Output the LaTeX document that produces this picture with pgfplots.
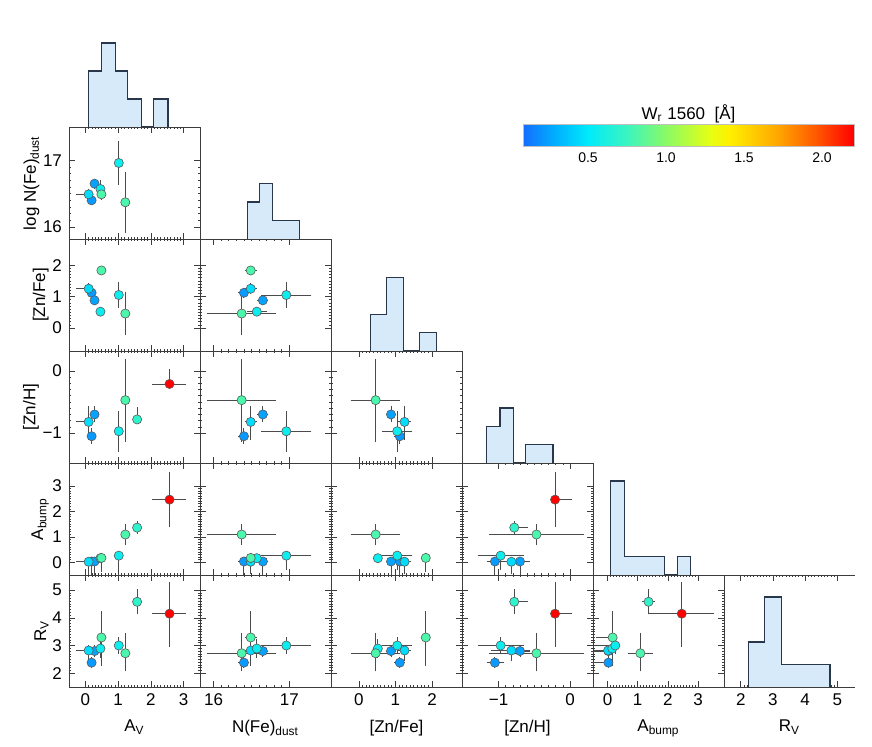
\documentclass[border=0pt]{standalone}
\usepackage{pgfplots}
\pgfplotsset{compat=1.18}
\usepackage{pgfplotstable}
\usepackage{fontspec}
\setmainfont{Liberation Sans}

\definecolor{histfill}{RGB}{214,234,250}
\definecolor{histline}{RGB}{40,55,75}
\definecolor{errc}{RGB}{75,75,75}
\definecolor{frame}{RGB}{60,60,60}

\pgfplotstableread{
id AV AVm AVp NF NFm NFp ZF ZFm ZFp ZH ZHm ZHp AB ABm ABp RV RVm RVp W
1 0.19 0.02 0.02 16.40 0.04 0.04 1.12 0.08 0.08 -1.05 0.08 0.10 0.03 0.43 0.00 2.38 0.10 0.10 0.22
2 0.28 0.02 0.02 16.65 0.04 0.04 0.88 0.08 0.08 -0.70 0.08 0.10 0.03 0.43 0.00 2.80 0.12 0.12 0.25
3 0.10 0.30 0.00 16.49 0.05 0.05 1.25 0.10 0.10 -0.82 0.25 0.22 0.02 0.40 0.00 2.82 0.30 0.12 0.45
4 0.46 0.02 0.02 16.57 0.10 0.10 0.52 0.06 0.06 nan 0 0 0.16 0.08 0.05 2.89 0.25 0.25 0.55
5 0.49 0.02 0.02 16.49 0.05 0.05 1.83 0.05 0.05 nan 0 0 0.17 0.46 0.05 3.29 0.94 0.86 0.80
6 1.02 0.03 0.03 16.96 0.30 0.30 1.05 0.35 0.35 -0.97 0.29 0.29 0.26 0.46 0.05 3.00 0.22 0.22 0.55
7 1.22 0.03 0.03 16.37 0.42 0.42 0.46 0.62 0.60 -0.47 0.63 0.63 1.09 0.33 0.33 2.72 0.57 0.63 0.80
8 1.58 0.03 0.03 nan 0 0 nan 0 0 -0.78 0.00 0.16 1.36 0.15 0.15 4.58 0.37 0.37 0.70
9 2.57 0.47 0.43 nan 0 0 nan 0 0 -0.21 0.00 0.20 2.46 1.00 1.00 4.15 1.10 1.05 2.20
}\data

\pgfplotsset{
  colormap={wmap}{rgb255(8pt)=(20,110,255); rgb255(30pt)=(0,180,255); rgb255(50pt)=(0,235,250); rgb255(75pt)=(60,245,190); rgb255(100pt)=(140,250,100); rgb255(128pt)=(230,255,20); rgb255(140pt)=(255,240,0); rgb255(170pt)=(255,170,0); rgb255(195pt)=(255,90,0); rgb255(220pt)=(255,0,0)},
  base/.style={scale only axis, width=65.5pt, height=56pt, anchor=south west,
    tick align=inside, major tick length=3pt, minor tick length=1.2pt,
    axis line style={frame, line width=0.4pt},
    every tick/.style={frame, line width=0.3pt},
    tick label style={font=\fontsize{8.5}{10}\selectfont},
    label style={font=\fontsize{8.5}{10}\selectfont},
    ylabel shift=-5pt,
    xticklabels={}, yticklabels={},
    colormap name=wmap, point meta min=0.083, point meta max=2.205},
  panel/.style={base},
  hpanel/.style={base, axis x line*=bottom, axis y line=none},
  noticks/.style={major tick length=0pt, minor tick length=0pt},
  xAV/.style={xmin=-0.5, xmax=3.5, xtick={0,1,2,3}, minor x tick num=9},
  xNF/.style={xmin=15.82, xmax=17.55, xtick={16,17}, minor x tick num=9},
  xZF/.style={xmin=-0.76, xmax=2.82, xtick={0,1,2}, minor x tick num=9},
  xZH/.style={xmin=-1.51, xmax=0.32, xtick={-1,0}, minor x tick num=9},
  xAB/.style={xmin=-0.48, xmax=3.86, xtick={0,1,2,3}, minor x tick num=9},
  xRV/.style={xmin=1.48, xmax=5.55, xtick={2,3,4,5}, minor x tick num=9},
  yNF/.style={ymin=15.82, ymax=17.5, ytick={16,17}, minor y tick num=9},
  yZF/.style={ymin=-0.73, ymax=2.83, ytick={0,1,2}, minor y tick num=9},
  yZH/.style={ymin=-1.48, ymax=0.32, ytick={-1,0}, minor y tick num=9},
  yAB/.style={ymin=-0.5, ymax=3.9, ytick={0,1,2,3}, minor y tick num=9},
  yRV/.style={ymin=1.5, ymax=5.55, ytick={2,3,4,5}, minor y tick num=9},
  pts/.style={only marks, scatter, mark=*, mark size=2.3pt,
    scatter/use mapped color={draw=black!65, fill=mapped color, line width=0.3pt},
    point meta=explicit,
    error bars/.cd, x dir=both, x explicit, y dir=both, y explicit,
    error bar style={errc, line width=0.45pt},
    error mark options={errc, line width=0.45pt, mark size=1.2pt}},
}

\newcommand\scat[5]{%
\begin{axis}[panel, at={({34.5pt+65.5pt*#2},{310pt-56pt*#1})}, x#3, y#4, #5]
\addplot[pts] table[x=#3, y=#4, x error minus=#3m, x error plus=#3p, y error minus=#4m, y error plus=#4p, meta=W]{\data};
\end{axis}}

\newcommand\hist[6]{%
\begin{axis}[hpanel, at={({34.5pt+65.5pt*#2},{310pt-56pt*#1})}, x#3, ymin=0, ymax=#4, #6]
\addplot[histline, fill=histfill, line width=0.6pt] coordinates {#5};
\end{axis}}

\begin{document}
\begin{tikzpicture}
\useasboundingbox (0,0) rectangle (436pt,373.5pt);

% histograms on the diagonal
\hist{0}{0}{AV}{4}{(0.09,0) (0.09,2) (0.49,2) (0.49,3) (0.92,3) (0.92,2) (1.29,2) (1.29,1) (1.72,1) (1.72,0) (2.09,0) (2.09,1) (2.52,1) (2.52,0)}{noticks}
\hist{1}{1}{NF}{6.05}{(16.45,0) (16.45,2) (16.61,2) (16.61,3) (16.78,3) (16.78,1) (17.13,1) (17.13,0)}{noticks}
\hist{2}{2}{ZF}{6.1}{(0.33,0) (0.33,2) (0.76,2) (0.76,4) (1.23,4) (1.23,0) (1.66,0) (1.66,1) (2.12,1) (2.12,0)}{noticks}
\hist{3}{3}{ZH}{6.1}{(-1.17,0) (-1.17,2) (-0.98,2) (-0.98,3) (-0.79,3) (-0.79,0) (-0.62,0) (-0.62,1) (-0.24,1) (-0.24,0)}{noticks}
\hist{4}{4}{AB}{5.96}{(0.1,0) (0.1,5) (0.57,5) (0.57,1) (1.89,1) (1.89,0) (2.32,0) (2.32,1) (2.76,1) (2.76,0)}{noticks}
\hist{5}{5}{RV}{4.98}{(2.25,0) (2.25,2) (2.74,2) (2.74,4) (3.26,4) (3.26,1) (4.77,1) (4.77,0)}{axis x line*=box, xticklabels={2,3,4,5}, xlabel={R\textsubscript{V}}}

% row 1: log N(Fe)dust
\scat{1}{0}{AV}{NF}{yticklabels={16,17}, ylabel={log N(Fe)\textsubscript{dust}}}
% row 2: [Zn/Fe]
\scat{2}{0}{AV}{ZF}{yticklabels={0,1,2}, ylabel={[Zn/Fe]}}
\scat{2}{1}{NF}{ZF}{}
% row 3: [Zn/H]
\scat{3}{0}{AV}{ZH}{yticklabels={−1,0}, ylabel={[Zn/H]}}
\scat{3}{1}{NF}{ZH}{}
\scat{3}{2}{ZF}{ZH}{}
% row 4: A bump
\scat{4}{0}{AV}{AB}{yticklabels={0,1,2,3}, ylabel={A\textsubscript{bump}}}
\scat{4}{1}{NF}{AB}{}
\scat{4}{2}{ZF}{AB}{}
\scat{4}{3}{ZH}{AB}{}
% row 5: R_V
\scat{5}{0}{AV}{RV}{yticklabels={2,3,4,5}, ylabel={R\textsubscript{V}}, xticklabels={0,1,2,3}, xlabel={A\textsubscript{V}}}
\scat{5}{1}{NF}{RV}{xticklabels={16,17}, xlabel={N(Fe)\textsubscript{dust}}}
\scat{5}{2}{ZF}{RV}{xticklabels={0,1,2}, xlabel={[Zn/Fe]}}
\scat{5}{3}{ZH}{RV}{xticklabels={−1,0}, xlabel={[Zn/H]}}
\scat{5}{4}{AB}{RV}{xticklabels={0,1,2,3}, xlabel={A\textsubscript{bump}}}

% colour bar
\begin{axis}[at={(261.5pt,309pt)}, anchor=south west, scale only axis, width=165.5pt, height=11pt,
  hide axis, colormap name=wmap, point meta min=0.083, point meta max=2.205,
  xmin=0, xmax=1, ymin=0, ymax=1,
  colorbar horizontal,
  colorbar style={at={(parent axis.south west)}, anchor=south west, scale only axis,
    width=165.5pt, height=11pt, xtick={0.5,1,1.5,2}, xticklabels={0.5,1.0,1.5,2.0},
    major tick length=0pt, xticklabel style={font=\fontsize{7}{8}\selectfont},
    title={W\textsubscript{r} 1560\ \ [Å]}, title style={font=\fontsize{8.5}{10}\selectfont, yshift=-9pt},
    axis line style={draw=gray!50}}]
\addplot[draw=none] coordinates {(0,0) (1,1)};
\end{axis}
\end{tikzpicture}
\end{document}
